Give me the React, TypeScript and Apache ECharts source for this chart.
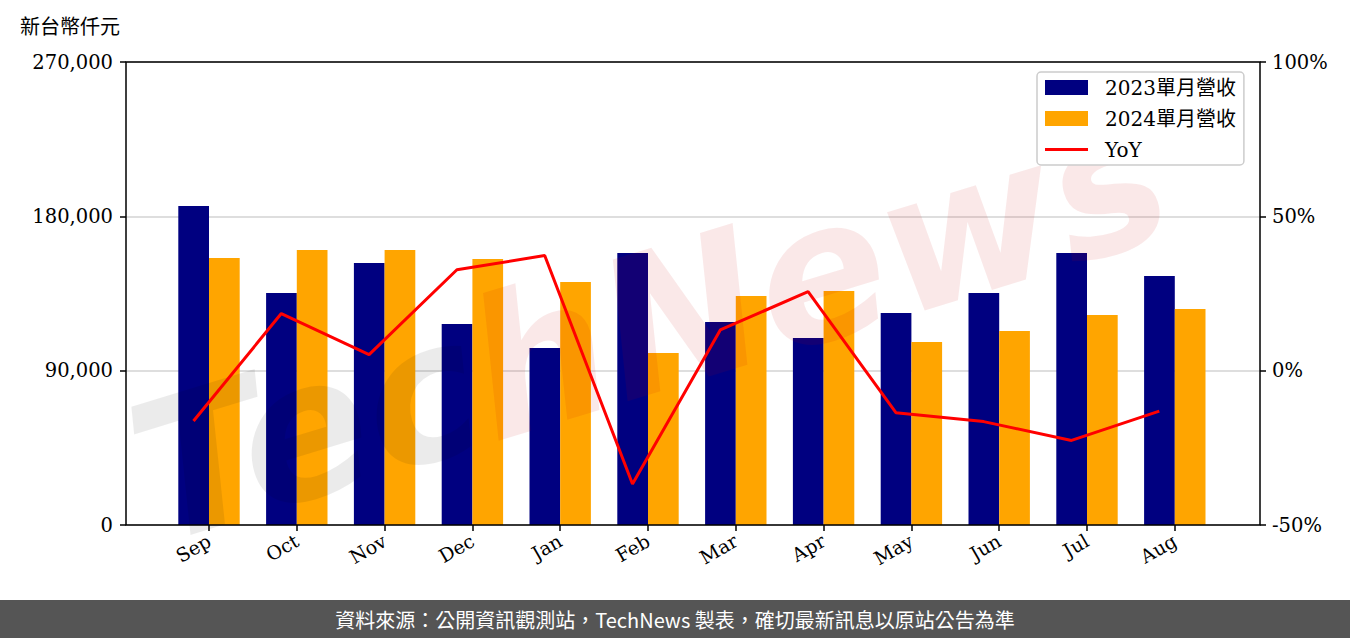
import React, { useEffect, useRef } from "react";
import * as echarts from "echarts";

const months = ["Sep", "Oct", "Nov", "Dec", "Jan", "Feb", "Mar", "Apr", "May", "Jun", "Jul", "Aug"];
const rev2023 = [186000, 135300, 152800, 117200, 103200, 158600, 118400, 109100, 123600, 135300, 158600, 145200];
const rev2024 = [155700, 160400, 160400, 155100, 141700, 100300, 133600, 136500, 106700, 113100, 122500, 126000];
const yoy = [-16.3, 18.5, 5.2, 32.7, 37.3, -36.7, 13.2, 25.6, -13.6, -16.5, -22.6, -13.1];
const leftTicks = [0, 90000, 180000, 270000];
const rightTicks = [-50, 0, 50, 100];

const SERIF = "'DejaVu Serif', 'Noto Sans CJK TC', serif";
const CJK = "'Noto Sans CJK TC', sans-serif";

export default function App() {
  const ref = useRef<HTMLDivElement>(null);
  useEffect(() => {
    if (!ref.current) return;
    const chart = echarts.init(ref.current, undefined, { renderer: "svg" });
    const top = 62;
    const bottom = 638 - 525;
    const option: any = {
      animation: false,
      backgroundColor: "#fff",
      grid: [
        { left: 126, right: 90, top, bottom },
        { left: 165.1, right: 131.3, top, bottom },
        { left: 149.6, right: 146.8, top, bottom },
      ],
      xAxis: [
        { gridIndex: 0, type: "value", min: 0, max: 1, show: false },
        {
          gridIndex: 1,
          type: "category",
          data: months,
          boundaryGap: true,
          axisLine: { show: false },
          axisTick: { show: true, alignWithLabel: true, length: 6, lineStyle: { color: "#000", width: 1.5 } },
          axisLabel: {
            rotate: 30,
            fontFamily: SERIF,
            fontSize: 19,
            color: "#000",
            margin: 14,
          },
        },
        { gridIndex: 2, type: "category", data: months, boundaryGap: true, show: false },
      ],
      yAxis: [
        {
          gridIndex: 0,
          type: "value",
          position: "left",
          min: leftTicks[0],
          max: leftTicks[leftTicks.length - 1],
          interval: 90000,
          axisLine: { show: false },
          axisTick: { show: true, length: 6, lineStyle: { color: "#000", width: 1.5 } },
          axisLabel: {
            fontFamily: SERIF,
            fontSize: 19.5,
            color: "#000",
            margin: 13,
            formatter: (v: number) => v.toLocaleString("en-US"),
          },
          splitLine: { show: true, lineStyle: { color: "#d3d3d3", width: 1.5 } },
        },
        {
          gridIndex: 0,
          type: "value",
          position: "right",
          min: rightTicks[0],
          max: rightTicks[rightTicks.length - 1],
          interval: 50,
          axisLine: { show: false },
          axisTick: { show: true, length: 6, lineStyle: { color: "#000", width: 1.5 } },
          axisLabel: { fontFamily: SERIF, fontSize: 19.5, color: "#000", margin: 12, formatter: "{value}%" },
          splitLine: { show: false },
        },
        { gridIndex: 1, type: "value", min: 0, max: 270000, show: false, splitLine: { show: false } },
        { gridIndex: 2, type: "value", min: -50, max: 100, show: false, splitLine: { show: false } },
      ],
      legend: {
        orient: "vertical",
        left: 1037,
        top: 72,
        padding: [5, 8, 5, 8],
        itemGap: 10,
        itemWidth: 43,
        itemHeight: 15,
        symbolKeepAspect: true,
        backgroundColor: "#fff",
        borderColor: "#cccccc",
        borderWidth: 1.5,
        borderRadius: 4,
        textStyle: { fontFamily: SERIF, fontSize: 20, color: "#000", padding: [0, 0, 0, 12], lineHeight: 21 },
        data: [
          { name: "2023單月營收", icon: "rect" },
          { name: "2024單月營收", icon: "rect" },
          { name: "YoY", icon: "path://M0,0h43v3.2h-43z" },
        ],
        z: 10,
      },
      graphic: [
        {
          type: "text",
          left: 20,
          top: 15,
          style: { text: "新台幣仟元", font: `20px ${CJK}`, fill: "#000" },
        },
        {
          type: "text",
          x: 650,
          y: 325,
          rotation: (17 * Math.PI) / 180,
          z: 3,
          silent: true,
          style: {
            text: "{a|Tec}{b|hNews}",
            align: "center",
            verticalAlign: "middle",
            rich: {
              a: { font: `italic bold 192px 'DejaVu Sans'`, fill: "rgba(0,0,0,0.08)" },
              b: { font: `italic bold 192px 'DejaVu Sans'`, fill: "rgba(200,0,0,0.09)" },
            },
          },
        },
        {
          type: "rect",
          x: 126,
          y: 62,
          shape: { x: 0, y: 0, width: 1134, height: 463 },
          style: { fill: "none", stroke: "#000", lineWidth: 1.5 },
          z: 8,
          silent: true,
        },
        {
          type: "rect",
          x: 0,
          y: 600,
          shape: { x: 0, y: 0, width: 1350, height: 38 },
          style: { fill: "#555555" },
          z: 5,
        },
        {
          type: "text",
          x: 675,
          y: 619,
          z: 6,
          style: {
            text: "資料來源：公開資訊觀測站，TechNews 製表，確切最新訊息以原站公告為準",
            font: `20px ${CJK}`,
            fill: "#fff",
            align: "center",
            verticalAlign: "middle",
          },
        },
      ],
      series: [
        {
          name: "2023單月營收",
          type: "bar",
          xAxisIndex: 1,
          yAxisIndex: 2,
          data: rev2023,
          barWidth: 30.7,
          barGap: "0%",
          itemStyle: { color: "#000080" },
          z: 2,
        },
        {
          name: "2024單月營收",
          type: "bar",
          xAxisIndex: 1,
          yAxisIndex: 2,
          data: rev2024,
          barWidth: 30.7,
          barGap: "0%",
          itemStyle: { color: "#FFA500" },
          z: 2,
        },
        {
          name: "YoY",
          type: "line",
          xAxisIndex: 2,
          yAxisIndex: 3,
          data: yoy,
          symbol: "none",
          showSymbol: false,
          itemStyle: { color: "#FF0000" },
          lineStyle: { color: "#FF0000", width: 3 },
          z: 4,
        },
      ],
    };
    chart.setOption(option);
    return () => chart.dispose();
  }, []);
  return <div ref={ref} style={{ position: "fixed", left: 0, top: 0, width: 1350, height: 638 }} />;
}
